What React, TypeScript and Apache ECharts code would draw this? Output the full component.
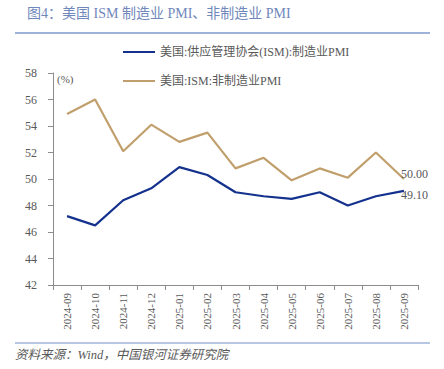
import React, { useEffect, useRef } from "react";
import * as echarts from "echarts";

const categories = [
  "2024-09", "2024-10", "2024-11", "2024-12", "2025-01", "2025-02", "2025-03",
  "2025-04", "2025-05", "2025-06", "2025-07", "2025-08", "2025-09",
];
const manufacturing = [47.2, 46.5, 48.4, 49.3, 50.9, 50.3, 49.0, 48.7, 48.5, 49.0, 48.0, 48.7, 49.1];
const nonManufacturing = [54.9, 56.0, 52.1, 54.1, 52.8, 53.5, 50.8, 51.6, 49.9, 50.8, 50.1, 52.0, 50.0];
const seriesNames = ["美国:供应管理协会(ISM):制造业PMI", "美国:ISM:非制造业PMI"];
const titleText = "图4：美国 ISM 制造业 PMI、非制造业 PMI";
const sourceText = "资料来源：Wind，中国银河证券研究院";

const FONT = "'Liberation Serif', 'Noto Sans CJK SC', serif";

export default function App() {
  const ref = useRef<HTMLDivElement>(null);
  useEffect(() => {
    if (!ref.current) return;
    const chart = echarts.init(ref.current, undefined, { renderer: "svg" });
    chart.setOption({
      animation: false,
      backgroundColor: "#fff",
      textStyle: { fontFamily: FONT },
      grid: { left: 53, right: 26, top: 73, bottom: 84, containLabel: false },
      legend: {
        orient: "vertical",
        left: 118,
        top: 41,
        itemGap: 17,
        itemWidth: 32,
        itemHeight: 2,
        icon: "rect",
        textStyle: { fontFamily: FONT, fontSize: 12, color: "#595959" },
        data: seriesNames,
      },
      xAxis: {
        type: "category",
        data: categories,
        boundaryGap: true,
        axisLine: { lineStyle: { color: "#8c8c8c" } },
        axisTick: { show: true, alignWithLabel: false, length: 5, lineStyle: { color: "#8c8c8c" } },
        axisLabel: { rotate: 90, fontSize: 11, color: "#595959", fontFamily: FONT, margin: 8, interval: 0 },
      },
      yAxis: {
        type: "value",
        min: 42,
        max: 58,
        interval: 2,
        splitLine: { show: false },
        axisLine: { show: true, lineStyle: { color: "#8c8c8c" } },
        axisTick: { show: true, length: 5, lineStyle: { color: "#8c8c8c" } },
        axisLabel: { fontSize: 12, color: "#595959", fontFamily: FONT, margin: 16 },
      },
      series: [
        {
          name: seriesNames[0],
          type: "line",
          data: manufacturing,
          symbol: "none",
          lineStyle: { color: "#13318d", width: 2.2 },
          itemStyle: { color: "#13318d" },
          endLabel: {
            show: true,
            fontSize: 12,
            color: "#595959",
            fontFamily: FONT,
            offset: [-11, 4],
            formatter: (p: any) => Number(p.value).toFixed(2),
          },
        },
        {
          name: seriesNames[1],
          type: "line",
          data: nonManufacturing,
          symbol: "none",
          lineStyle: { color: "#c19f6d", width: 2.2 },
          itemStyle: { color: "#c19f6d" },
          endLabel: {
            show: true,
            fontSize: 12,
            color: "#595959",
            fontFamily: FONT,
            offset: [-11, -5],
            formatter: (p: any) => Number(p.value).toFixed(2),
          },
        },
      ],
      graphic: [
        {
          type: "text",
          left: 27,
          top: 6,
          style: { text: titleText, fontSize: 14, fill: "#6f87bb", fontFamily: FONT },
        },
        {
          type: "line",
          shape: { x1: 15, y1: 33, x2: 430, y2: 33 },
          style: { stroke: "#7f99cc", lineWidth: 1.5 },
        },
        {
          type: "text",
          left: 57,
          top: 73,
          style: { text: "(%)", fontSize: 11, fill: "#595959", fontFamily: FONT },
        },
        {
          type: "line",
          shape: { x1: 15, y1: 343, x2: 430, y2: 343 },
          style: { stroke: "#9fb3d9", lineWidth: 1.5 },
        },
        {
          type: "text",
          left: 15,
          top: 349,
          style: { text: sourceText, fontSize: 12.5, fill: "#595959", fontFamily: FONT, fontStyle: "italic" },
        },
      ],
    });
    return () => chart.dispose();
  }, []);
  return <div ref={ref} style={{ position: "absolute", left: 0, top: 0, width: 444, height: 369 }} />;
}
